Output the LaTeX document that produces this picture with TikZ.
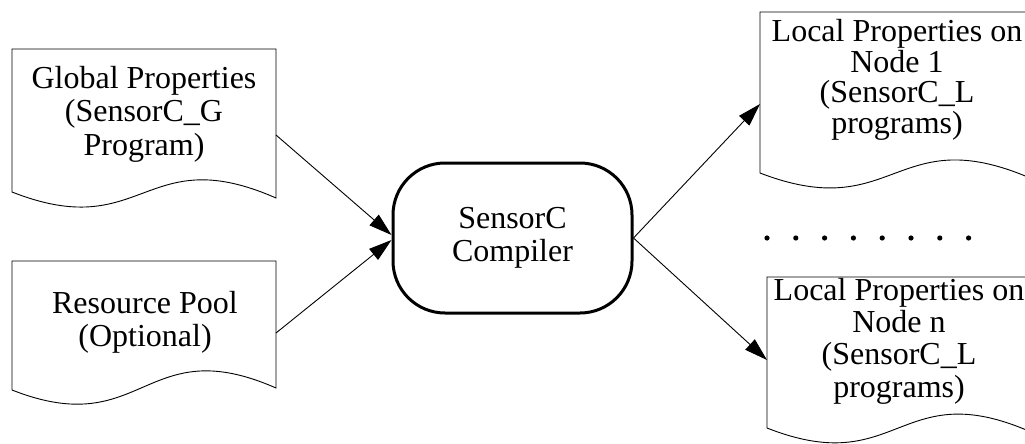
\documentclass[tikz,border=0pt]{standalone}
\usepackage{fontspec}
\setmainfont{Liberation Serif}
\usetikzlibrary{arrows.meta,calc}

\tikzset{
  doc/.style={draw=black, line width=0.9pt},
  txt/.style={align=center, inner sep=0pt, font=\fontsize{32}{33.5}\selectfont},
  flow/.style={draw=black, line width=0.9pt, -{Triangle[length=23pt,width=14pt]}},
  engine/.style={draw=black, line width=3pt, rounded corners=52pt,
    minimum width=239pt, minimum height=150pt, inner sep=0pt, align=center,
    font=\fontsize{32}{33}\selectfont}
}

% document symbol: left, top, right, left-bottom, right-bottom
\newcommand\docshape[5]{%
  \draw[doc] (#1,#4) -- (#1,#2) -- (#3,#2) -- (#3,#5)
    .. controls ({(#1+#3)/2},{#5-58}) and ({(#1+#3)/2},{#4+52}) .. (#1,#4) -- cycle;}

\begin{document}
\begin{tikzpicture}[x=1pt, y=-1pt]
  \useasboundingbox (0,0) rectangle (1025,444);
  \clip (0,0) rectangle (1025,444);

  % input documents
  \docshape{12}{49}{276}{192}{198}
  \node[txt] (glob) at (144,114) {Global Properties\\(SensorC\_G\\Program)};
  \docshape{12}{261}{276}{390}{388}
  \node[txt] (pool) at (145,322.5) {Resource Pool\\(Optional)};

  % compiler
  \node[engine] (comp) at (512.5,238) {SensorC\\Compiler};

  % output documents
  \docshape{760}{12}{1030}{173}{178}
  \node[txt, font=\fontsize{32}{30.5}\selectfont] (loc1) at (897,80)
    {Local Properties on\\Node 1\\(SensorC\_L\\programs)};
  \docshape{767}{277}{1031}{428}{432}
  \node[txt, font=\fontsize{32}{32.3}\selectfont] (locn) at (899,341)
    {Local Properties on\\Node n\\(SensorC\_L\\programs)};

  % ellipsis between the output documents
  \foreach \i in {0,...,7}
    \fill ({767+28.8*\i},238) circle (2.6pt);

  % connector end points
  \coordinate (glob-out) at (276,135);
  \coordinate (pool-out) at (276,333);
  \coordinate (loc1-in) at (760,104);
  \coordinate (locn-in) at (767,360);

  \draw[flow] (glob-out) -- ($(comp.west)+(0,-3)$);
  \draw[flow] (pool-out) -- ($(comp.west)+(0,2)$);
  \draw[flow] (comp.east) -- (loc1-in);
  \draw[flow] (comp.east) -- (locn-in);
\end{tikzpicture}
\end{document}
